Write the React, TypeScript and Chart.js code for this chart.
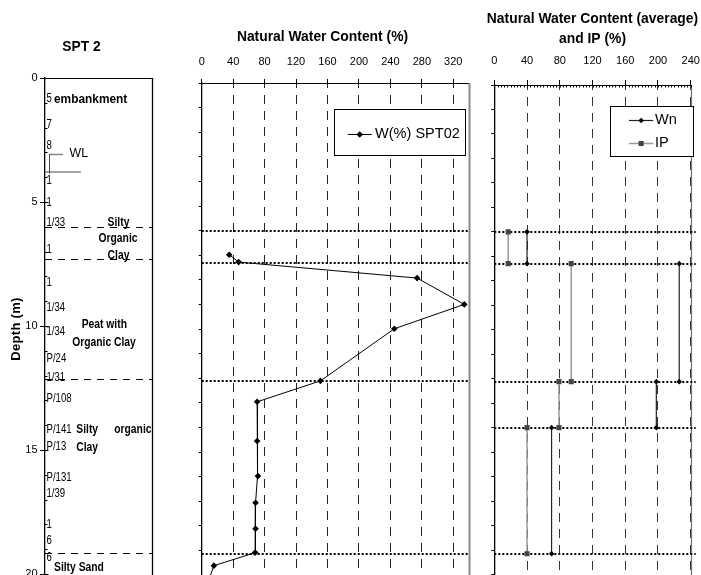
import React, { useEffect, useRef } from 'react';
import { Chart, registerables } from 'chart.js';

Chart.register(...registerables);

const FONT = "'Liberation Sans', Arial, Helvetica, sans-serif";
Chart.defaults.font.family = FONT;
Chart.defaults.color = '#000';

const W = 701;
const H = 575;
const CANVAS_H = 600;

// ---------------- data ----------------
const depthMin = 0;
const depthMax = 20;

// SPT 2 borehole log
const sptDepths = [0.85, 1.9, 2.73, 4.15, 5.01, 5.82, 6.94, 8.25, 9.26, 10.23, 11.33, 12.08, 12.92, 14.19, 14.87, 16.12, 16.75, 18.02, 18.67, 19.33];
const sptLabels = ['5', '7', '8', '1', '1', '1/33', '1', '1', '1/34', '1/34', 'P/24', '1/31', 'P/108', 'P/141', 'P/13', 'P/131', '1/39', '1', '6', '6'];
const layerBoundaries = [6.0, 7.3, 12.12, 19.15];
const waterLevelDepth = 3.05;

// Natural water content SPT02
const wcDepths = [6.98, 7.28, 7.93, 9.0, 9.99, 12.11, 12.96, 14.55, 15.98, 17.06, 18.12, 19.09, 19.62, 20.3];
const wcValues = [35, 47, 274, 334, 245, 151, 70.5, 70.5, 71.5, 68.5, 68.5, 68, 15.5, 8];

// Averages per layer
const avgLayerTops = [6.0, 7.3, 12.12, 14.0];
const avgLayerBottoms = [7.3, 12.12, 14.0, 19.15];
const wnAverage = [40, 226, 198, 70];
const ipAverage = [17, 94, 79, 40];

// ---------------- layout ----------------
const LOG_AREA = { left: 45, top: 78, right: 152, bottom: 574 };
const WC_AREA = { left: 201.7, top: 83, right: 469, bottom: 575 };
const AVG_AREA = { left: 494.3, top: 85, right: 690.7, bottom: 574.5 };

const layerNameLayout = [
  { text: 'embankment', depth: 0.87, x: 54, align: 'left', size: 12.5, sx: 0.95 },
  { text: 'Silty', depth: 5.82, x: 118.5, align: 'center' },
  { text: 'Organic', depth: 6.49, x: 118, align: 'center' },
  { text: 'Clay', depth: 7.18, x: 118.5, align: 'center' },
  { text: 'Peat with', depth: 9.96, x: 104.3, align: 'center' },
  { text: 'Organic Clay', depth: 10.66, x: 104, align: 'center' },
  { text: 'Silty', depth: 14.19, x: 76.3, align: 'left' },
  { text: 'organic', depth: 14.19, x: 151.5, align: 'right' },
  { text: 'Clay', depth: 14.89, x: 76.3, align: 'left' },
  { text: 'Silty Sand', depth: 19.75, x: 54, align: 'left' },
];

// ---------------- helpers ----------------
type TxtOpts = { size?: number; bold?: boolean; align?: CanvasTextAlign; sx?: number; color?: string; spacing?: number };
function drawText(ctx: CanvasRenderingContext2D, s: string, x: number, y: number, o: TxtOpts = {}) {
  const { size = 11, bold = false, align = 'left', sx = 1, color = '#000', spacing = 0 } = o;
  ctx.save();
  ctx.font = `${bold ? 'bold ' : ''}${size}px ${FONT}`;
  if (spacing) (ctx as any).letterSpacing = spacing + 'px';
  ctx.fillStyle = color;
  ctx.textAlign = align;
  ctx.textBaseline = 'middle';
  ctx.translate(x, y);
  ctx.scale(sx, 1);
  ctx.fillText(s, 0, 0);
  ctx.restore();
}

function seg(ctx: CanvasRenderingContext2D, x1: number, y1: number, x2: number, y2: number, color = '#000', width = 1, dash: number[] = [], offset = 0) {
  ctx.save();
  ctx.strokeStyle = color;
  ctx.lineWidth = width;
  ctx.setLineDash(dash);
  ctx.lineDashOffset = offset;
  ctx.beginPath();
  ctx.moveTo(x1, y1);
  ctx.lineTo(x2, y2);
  ctx.stroke();
  ctx.restore();
}

const crisp = (v: number) => Math.round(v) + 0.5;

function marker(ctx: CanvasRenderingContext2D, style: string, cx: number, cy: number, r: number, color: string) {
  ctx.save();
  ctx.fillStyle = color;
  ctx.beginPath();
  if (style === 'rectRot') {
    ctx.moveTo(cx, cy - r);
    ctx.lineTo(cx + r, cy);
    ctx.lineTo(cx, cy + r);
    ctx.lineTo(cx - r, cy);
    ctx.closePath();
  } else {
    const h = r * Math.SQRT1_2;
    ctx.rect(cx - h, cy - h, 2 * h, 2 * h);
  }
  ctx.fill();
  ctx.restore();
}

function drawLegend(chart: any, box: { x: number; y: number; w: number; h: number }, rows: number[], lineX1: number, lineX2: number, textX: number) {
  const ctx: CanvasRenderingContext2D = chart.ctx;
  ctx.save();
  ctx.fillStyle = '#fff';
  ctx.fillRect(box.x, box.y, box.w, box.h);
  ctx.strokeStyle = '#000';
  ctx.lineWidth = 1;
  ctx.strokeRect(crisp(box.x), crisp(box.y), Math.round(box.w), Math.round(box.h));
  ctx.restore();
  chart.data.datasets.forEach((ds: any, i: number) => {
    const y = rows[i];
    seg(ctx, lineX1, crisp(y), lineX2, crisp(y), ds.borderColor, ds.borderWidth);
    marker(ctx, ds.pointStyle, (lineX1 + lineX2) / 2, crisp(y), ds.pointRadius, ds.pointBackgroundColor);
    drawText(ctx, ds.label, textX, y, { size: 15, sx: 0.97 });
  });
}

function depthAxis(extra: any) {
  return {
    type: 'linear',
    position: 'left',
    reverse: true,
    min: depthMin,
    max: depthMax,
    ...extra,
  };
}

// ---------------- plugins ----------------
const logPlugin = {
  id: 'logPlugin',
  afterDraw(chart: any) {
    const { ctx, chartArea: a, scales } = chart;
    const y = scales.y;
    seg(ctx, a.left - 0.5, crisp(a.top), a.right + 0.5, crisp(a.top), '#000', 1);
    seg(ctx, crisp(a.right), a.top, crisp(a.right), a.bottom + 30, '#000', 1.3);
    for (let d = depthMin; d <= depthMax; d++) {
      const py = crisp(y.getPixelForValue(d));
      seg(ctx, a.left, py, a.left + (d % 5 === 0 ? 3.5 : 2.5), py, '#000', 1);
    }
    layerBoundaries.forEach((d) => {
      const py = crisp(y.getPixelForValue(d));
      seg(ctx, a.left, py, a.right, py, '#000', 1, [7, 6]);
    });
    sptLabels.forEach((s, i) => {
      drawText(ctx, s, a.left + 1.5, y.getPixelForValue(sptDepths[i]), { size: 12, sx: 0.8 });
    });
    layerNameLayout.forEach((l: any) => {
      drawText(ctx, l.text, l.x, y.getPixelForValue(l.depth), { size: l.size ?? 12, bold: true, align: l.align, sx: l.sx ?? 0.86 });
    });
    const wy = crisp(y.getPixelForValue(waterLevelDepth));
    seg(ctx, a.left + 4, wy, a.left + 18, wy, '#888', 1.5);
    seg(ctx, a.left + 4.5, wy, a.left + 4.5, wy + 19, '#444', 1);
    seg(ctx, a.left, wy + 17.5, a.left + 36, wy + 17.5, '#444', 1);
    drawText(ctx, 'WL', a.left + 24.5, wy - 1.5, { size: 13, sx: 0.95 });
    drawText(ctx, 'SPT 2', 81.5, 47, { size: 14.5, bold: true, align: 'center', sx: 0.95 });
    ctx.save();
    ctx.translate(16.5, 329);
    ctx.rotate(-Math.PI / 2);
    drawText(ctx, 'Depth (m)', 0, 0, { size: 13, bold: true, align: 'center', spacing: 0.3 });
    ctx.restore();
  },
};

const wcPlugin = {
  id: 'wcPlugin',
  beforeDatasetsDraw(chart: any) {
    const { ctx, chartArea: a, scales } = chart;
    layerBoundaries.forEach((d) => {
      const py = Math.round(scales.y.getPixelForValue(d));
      seg(ctx, a.left, py, a.right, py, '#000', 2, [2, 2]);
    });
    seg(ctx, a.right + 0.5, a.top, a.right + 0.5, a.bottom + 30, '#888', 2);
  },
  afterDraw(chart: any) {
    const ctx = chart.ctx;
    drawLegend(chart, { x: 334.3, y: 109, w: 130.7, h: 46.3 }, [134.3], 347.7, 371.7, 375);
    drawText(ctx, 'Natural Water Content (%)', 322.5, 37, { size: 14, bold: true, align: 'center', sx: 0.99 });
  },
};

const avgPlugin = {
  id: 'avgPlugin',
  beforeDatasetsDraw(chart: any) {
    const { ctx, chartArea: a, scales } = chart;
    seg(ctx, crisp(a.right), a.top, crisp(a.right), a.bottom + 30, '#777', 1.2);
    const levels = Array.from(new Set([...avgLayerTops, ...avgLayerBottoms]));
    levels.forEach((d) => {
      const py = Math.round(scales.y.getPixelForValue(d));
      seg(ctx, a.left, py, a.right + 5, py, '#000', 2, [2, 2]);
    });
    for (let v = 0; v <= 240; v += 4) {
      const px = crisp(scales.x.getPixelForValue(v));
      seg(ctx, px, a.top, px, a.top + 2.5, '#000', 1);
    }
  },
  afterDraw(chart: any) {
    const ctx = chart.ctx;
    drawLegend(chart, { x: 610, y: 106, w: 82.7, h: 50 }, [120, 142.7], 629, 653.3, 655);
    drawText(ctx, 'Natural Water Content (average)', 592.5, 19.5, { size: 14, bold: true, align: 'center', sx: 0.99 });
    drawText(ctx, 'and IP (%)', 592.5, 39.5, { size: 14, bold: true, align: 'center', sx: 0.99 });
  },
};

// ---------------- configs ----------------
const commonPlugins = { legend: { display: false }, tooltip: { enabled: false }, title: { display: false } };

function logConfig(): any {
  return {
    type: 'scatter',
    data: { datasets: [] },
    options: {
      responsive: false,
      animation: false,
      devicePixelRatio: 1,
      events: [],
      layout: { padding: { left: 0, top: LOG_AREA.top, right: W - LOG_AREA.right, bottom: CANVAS_H - LOG_AREA.bottom } },
      plugins: commonPlugins,
      scales: {
        x: { type: 'linear', display: false, min: 0, max: 1 },
        y: depthAxis({
          ticks: { stepSize: 5, padding: 2.5, color: '#000', font: { size: 11, family: FONT } },
          grid: { drawOnChartArea: false, tickLength: 5, color: '#000', tickColor: '#000' },
          border: { display: true, color: '#000', width: 1.3 },
          afterFit: (s: any) => { s.width = LOG_AREA.left; s.paddingTop = 0; s.paddingBottom = 0; },
        }),
      },
    },
    plugins: [logPlugin],
  };
}

function wcConfig(): any {
  return {
    type: 'scatter',
    data: {
      datasets: [
        {
          label: 'W(%) SPT02',
          data: wcValues.map((v, i) => ({ x: v, y: wcDepths[i] })),
          showLine: true,
          borderColor: '#000',
          borderWidth: 1,
          pointStyle: 'rectRot',
          pointRadius: 3.3,
          pointBackgroundColor: '#000',
          pointBorderColor: '#000',
          pointBorderWidth: 0,
        },
      ],
    },
    options: {
      responsive: false,
      animation: false,
      devicePixelRatio: 1,
      events: [],
      layout: { padding: { left: WC_AREA.left - 10, top: 0, right: W - WC_AREA.right, bottom: CANVAS_H - WC_AREA.bottom } },
      plugins: commonPlugins,
      scales: {
        x: {
          type: 'linear',
          position: 'top',
          min: 0,
          max: 340,
          ticks: { stepSize: 40, includeBounds: false, padding: 10, autoSkip: false, maxRotation: 0, color: '#000', font: { size: 11, family: FONT } },
          grid: { color: (c: any) => (c.tick && c.tick.value === 0 ? 'rgba(0,0,0,0)' : '#222'), tickColor: '#000', tickLength: 4, lineWidth: 1 },
          border: { display: true, color: '#000', width: 1, dash: [9, 7], dashOffset: 5 },
          afterFit: (s: any) => { s.height = WC_AREA.top; s.paddingLeft = 0; s.paddingRight = 0; },
        },
        y: depthAxis({
          ticks: { stepSize: 1, display: false },
          grid: { drawOnChartArea: false, tickLength: 3, color: '#000', tickColor: '#000' },
          border: { display: true, color: '#000', width: 1.3 },
          afterFit: (s: any) => { s.width = 10; s.paddingTop = 0; s.paddingBottom = 0; },
        }),
      },
    },
    plugins: [wcPlugin],
  };
}

function layerSegments(values: number[]) {
  const out: any[] = [];
  values.forEach((v, i) => {
    out.push({ x: v, y: avgLayerTops[i] }, { x: v, y: avgLayerBottoms[i] }, { x: null, y: null });
  });
  return out;
}

function avgConfig(): any {
  return {
    type: 'scatter',
    data: {
      datasets: [
        {
          label: 'Wn',
          data: layerSegments(wnAverage),
          showLine: true,
          spanGaps: false,
          borderColor: '#222',
          borderWidth: 1.2,
          pointStyle: 'rectRot',
          pointRadius: 2.8,
          pointBackgroundColor: '#000',
          pointBorderColor: '#000',
          pointBorderWidth: 0,
        },
        {
          label: 'IP',
          data: layerSegments(ipAverage),
          showLine: true,
          spanGaps: false,
          borderColor: '#9a9a9a',
          borderWidth: 1.5,
          pointStyle: 'rect',
          pointRadius: 3.6,
          pointBackgroundColor: '#444',
          pointBorderColor: '#444',
          pointBorderWidth: 0,
        },
      ],
    },
    options: {
      responsive: false,
      animation: false,
      devicePixelRatio: 1,
      events: [],
      layout: { padding: { left: AVG_AREA.left - 10, top: 0, right: W - AVG_AREA.right, bottom: CANVAS_H - AVG_AREA.bottom } },
      plugins: commonPlugins,
      scales: {
        x: {
          type: 'linear',
          position: 'top',
          min: 0,
          max: 240,
          ticks: { stepSize: 40, padding: 12, autoSkip: false, maxRotation: 0, color: '#000', font: { size: 11, family: FONT } },
          grid: { color: (c: any) => (c.tick && c.tick.value === 0 ? 'rgba(0,0,0,0)' : '#333'), tickColor: '#000', tickLength: 5, lineWidth: 1 },
          border: { display: true, color: '#000', width: 1, dash: [9, 7], dashOffset: 5 },
          afterFit: (s: any) => { s.height = AVG_AREA.top; s.paddingLeft = 0; s.paddingRight = 0; },
        },
        y: depthAxis({
          ticks: { stepSize: 1, display: false },
          grid: { drawOnChartArea: false, tickLength: 3, color: '#000', tickColor: '#000' },
          border: { display: true, color: '#000', width: 1.3 },
          afterFit: (s: any) => { s.width = 10; s.paddingTop = 0; s.paddingBottom = 0; },
        }),
      },
    },
    plugins: [avgPlugin],
  };
}

export default function App() {
  const logRef = useRef<HTMLCanvasElement>(null);
  const wcRef = useRef<HTMLCanvasElement>(null);
  const avgRef = useRef<HTMLCanvasElement>(null);

  useEffect(() => {
    const charts = [
      new Chart(logRef.current as HTMLCanvasElement, logConfig()),
      new Chart(wcRef.current as HTMLCanvasElement, wcConfig()),
      new Chart(avgRef.current as HTMLCanvasElement, avgConfig()),
    ];
    return () => charts.forEach((c) => c.destroy());
  }, []);

  const cs: React.CSSProperties = { position: 'absolute', left: 0, top: 0, width: W, height: CANVAS_H };
  return (
    <div style={{ position: 'fixed', left: 0, top: 0, width: W, height: H, overflow: 'hidden', background: '#fff' }}>
      <canvas ref={logRef} width={W} height={CANVAS_H} style={cs} />
      <canvas ref={wcRef} width={W} height={CANVAS_H} style={cs} />
      <canvas ref={avgRef} width={W} height={CANVAS_H} style={cs} />
    </div>
  );
}
